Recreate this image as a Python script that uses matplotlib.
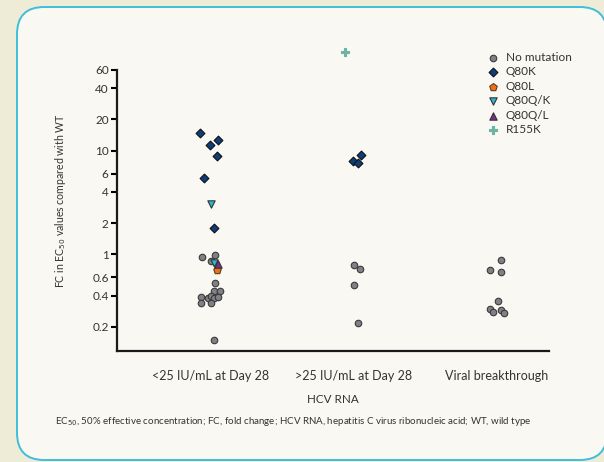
import numpy as np
import matplotlib.pyplot as plt
from matplotlib.patches import FancyBboxPatch

plt.rcParams['font.family'] = ['Lato', 'DejaVu Sans']

categories = ['<25 IU/mL at Day 28', '>25 IU/mL at Day 28', 'Viral breakthrough']
yticks = [0.2, 0.4, 0.6, 1, 2, 4, 6, 10, 20, 40, 60]

# each point: (group index, x jitter within group, FC value)
no_mut_grp = [0]*14 + [1]*4 + [2]*8
no_mut_jit = [-0.06, 0.03, 0.0, 0.03, 0.02, 0.06, -0.07, -0.02, 0.0, 0.02, 0.05, -0.07, 0.0, 0.02,
              0.0, 0.04, 0.0, 0.03,
              0.03, -0.05, 0.03, 0.01, -0.05, -0.03, 0.03, 0.05]
no_mut_val = [0.94, 0.99, 0.86, 0.535, 0.444, 0.44, 0.389, 0.38, 0.40, 0.377, 0.389, 0.338, 0.343, 0.149,
              0.79, 0.73, 0.51, 0.217,
              0.88, 0.71, 0.68, 0.353, 0.298, 0.281, 0.294, 0.271]

q80k_grp = [0]*6 + [1]*3
q80k_jit = [-0.08, -0.01, 0.05, 0.04, -0.05, 0.02, 0.05, -0.01, 0.03]
q80k_val = [14.9, 11.3, 12.6, 8.9, 5.46, 1.78, 9.09, 8.01, 7.55]

q80l_grp = [0]
q80l_jit = [0.04]
q80l_val = [0.71]

q80qk_grp = [0, 0]
q80qk_jit = [0.0, 0.02]
q80qk_val = [3.07, 0.825]

q80ql_grp = [0]
q80ql_jit = [0.05]
q80ql_val = [0.80]

r155k_grp = [1]
r155k_jit = [-0.06]
r155k_val = [89.5]

series = [
    ('No mutation', no_mut_grp, no_mut_jit, no_mut_val, 'o', '#808087', '#3a3a3a', 22),
    ('Q80K', q80k_grp, q80k_jit, q80k_val, 'D', '#0d3d7c', '#111111', 20),
    ('Q80L', q80l_grp, q80l_jit, q80l_val, 'p', '#e8731f', '#6a3a10', 32),
    ('Q80Q/K', q80qk_grp, q80qk_jit, q80qk_val, 'v', '#27b9cf', '#333333', 28),
    ('Q80Q/L', q80ql_grp, q80ql_jit, q80ql_val, '^', '#7b2d8e', '#333333', 28),
    ('R155K', r155k_grp, r155k_jit, r155k_val, 'P', '#6cb4a5', '#6cb4a5', 34),
]

fig = plt.figure(figsize=(6.04, 4.62), dpi=100)
fig.patch.set_facecolor('#eeebd6')
panel = FancyBboxPatch((17/604, 2/462), 590/604, 453/462,
                       boxstyle='round,pad=0,rounding_size=0.045',
                       transform=fig.transFigure, facecolor='#f9f8f2',
                       edgecolor='#3dbfd7', linewidth=1.4, mutation_aspect=604/462,
                       zorder=-10)
fig.patches.append(panel)

ax = fig.add_axes([117/604, 1-351/462, 432/604, 281/462])
ax.set_facecolor('none')

for name, grp, jit, val, mk, fc, ec, s in series:
    x = np.array(grp) + np.array(jit)
    ax.scatter(x, val, marker=mk, s=s, facecolor=fc, edgecolor=ec,
               linewidth=0.8, label=name, clip_on=False, zorder=3)

ax.set_yscale('log')
ax.set_ylim(0.117, 60)
ax.set_xlim(-0.657, 2.364)
ax.set_yticks(yticks)
ax.set_yticklabels([f'{v:g}' for v in yticks])
ax.minorticks_off()
ax.set_xticks(range(len(categories)))
ax.set_xticklabels(categories)
ax.tick_params(axis='x', length=0, pad=14, labelsize=9, labelcolor='#333333')
ax.tick_params(axis='y', length=4, width=1.5, labelsize=8.5, labelcolor='#333333', pad=2)

for side in ['top', 'right']:
    ax.spines[side].set_visible(False)
for side in ['left', 'bottom']:
    ax.spines[side].set_linewidth(1.6)
    ax.spines[side].set_color('#1a1a1a')

ax.set_ylabel('FC in EC$_{50}$ values compared with WT', fontsize=7.6, color='#333333')
ax.yaxis.set_label_coords(-0.114, 0.534)
ax.set_xlabel('HCV RNA', fontsize=8.4, color='#333333', labelpad=8)

ax.legend(loc='upper left', bbox_to_anchor=(481/604, 1-47/462), bbox_transform=fig.transFigure,
          frameon=False, fontsize=8.5, labelspacing=0.3, handletextpad=0.5,
          handlelength=1.2, borderaxespad=0, labelcolor='#333333')

fig.text(55/604, 1-422/462,
         'EC$_{50}$, 50% effective concentration; FC, fold change; HCV RNA, hepatitis C virus ribonucleic acid; WT, wild type',
         fontsize=7.0, color='#333333', va='center')

fig.savefig('out.png', dpi=100, facecolor=fig.get_facecolor())
